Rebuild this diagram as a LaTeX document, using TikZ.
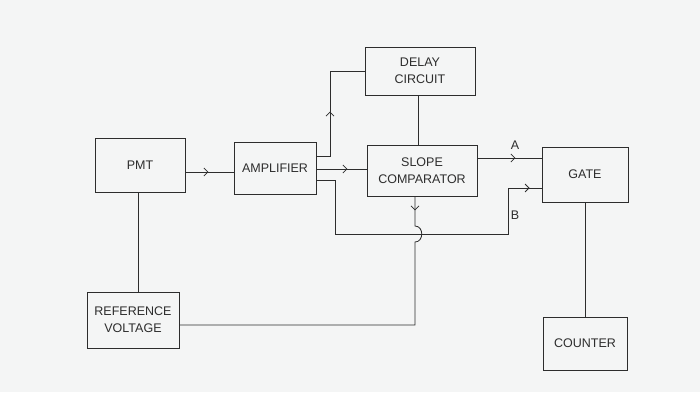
\documentclass[tikz,border=0pt]{standalone}
\usepackage{fontspec}
\setmainfont{Liberation Sans}
\usetikzlibrary{decorations.markings,arrows.meta}
\definecolor{paper}{RGB}{244,245,245}
\definecolor{ink}{RGB}{45,45,45}
\tikzset{
  blk/.style={draw=ink, line width=0.8pt, rectangle, inner sep=0pt, align=center, text=ink, font=\fontsize{12.5}{17}\selectfont},
  wire/.style={draw=ink, line width=0.8pt},
  midarr/.style={postaction={decorate}, decoration={markings, mark=at position #1 with {\arrow{Straight Barb[length=4pt,width=8pt,line width=0.8pt]}}}},
  lbl/.style={text=ink, font=\fontsize{12.5}{14}\selectfont}
}
\begin{document}
\begin{tikzpicture}[x=1pt,y=-1pt]
\fill[paper] (0,0) rectangle (700,392);
\useasboundingbox (0,0) rectangle (700,392);
\node[blk, minimum width=90pt, minimum height=54pt] (pmt) at (140,165) {PMT};
\node[blk, minimum width=82pt, minimum height=52pt] (amp) at (275,168) {AMPLIFIER};
\node[blk, minimum width=110pt, minimum height=48pt] (delay) at (420,71) {DELAY\\CIRCUIT};
\node[blk, minimum width=110pt, minimum height=51pt] (slope) at (422,170.5) {SLOPE\\COMPARATOR};
\node[blk, minimum width=86pt, minimum height=55pt] (gate) at (585,174.5) {GATE};
\node[blk, minimum width=84pt, minimum height=53pt] (counter) at (585,343.5) {COUNTER};
\node[blk, minimum width=92pt, minimum height=56pt] (ref) at (133,320) {REFERENCE\\VOLTAGE};
% helper coordinates
\coordinate (yp) at (0,172);
\coordinate (yd) at (0,156);
\coordinate (ys) at (0,169);
\coordinate (yb) at (0,180);
\coordinate (ya) at (0,158);
\coordinate (yg) at (0,188);
\coordinate (xd) at (330,0);
\coordinate (xb) at (335,0);
\coordinate (xbb) at (508,0);
\coordinate (ybot) at (0,234);
\coordinate (xv) at (415,0);
\coordinate (xds) at (418,0);
\coordinate (yh1) at (0,226);
\coordinate (yh2) at (0,242);
\coordinate (yr) at (0,325);
\coordinate (xr) at (138,0);
% PMT -> amplifier
\draw[wire, midarr=23pt] (pmt.east |- yp) -- (amp.west |- yp);
% PMT -- reference voltage
\draw[wire] (pmt.south -| xr) -- (ref.north -| xr);
% amplifier -> delay
\draw[wire, midarr=58pt] (amp.east |- yd) -| (xd |- delay.west) -- (delay.west);
% amplifier -> slope comparator
\draw[wire, midarr=31pt] (amp.east |- ys) -- (slope.west |- ys);
% delay -- slope
\draw[wire] (delay.south -| xds) -- (slope.north -| xds);
% slope -> gate (A)
\draw[wire, midarr=38pt] (slope.east |- ya) -- (gate.west |- ya);
\node[lbl] (la) at (515,145) {A};
% amplifier -> gate (B)
\draw[wire, midarr=-12pt] (amp.east |- yb) -| (xb |- ybot) -| (xbb |- yg) -- (gate.west |- yg);
\node[lbl] (lb) at (515,215) {B};
% slope -> reference voltage, hopping over B line
\draw[wire, midarr=14pt] (slope.south -| xv) -- (xv |- yh1)
  .. controls +(9,0) and +(9,0) .. (xv |- yh2)
  -- (xv |- yr) -- (ref.east |- yr);
% gate -- counter
\draw[wire] (gate.south) -- (counter.north);
\end{tikzpicture}
\end{document}
